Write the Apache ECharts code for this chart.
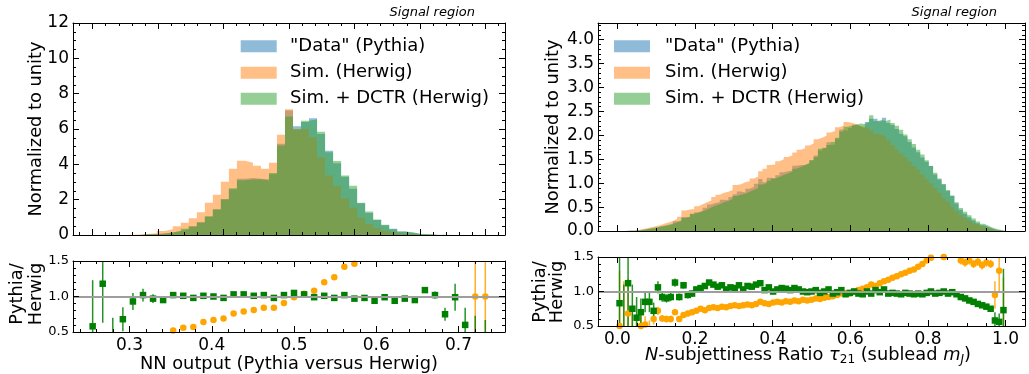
<!DOCTYPE html>
<html><head><meta charset="utf-8">
<script src="https://cdn.jsdelivr.net/npm/echarts@6/dist/echarts.min.js"></script>
<style>html,body{margin:0;padding:0;background:#fff}#c{width:1029px;height:374px}</style>
</head><body><div id="c"></div>
<script>
// ---------------- DATA ----------------
// Left panel: NN output, 49 bins from 0.2 to 0.8
const nnBinLo = 0.2, nnBinHi = 0.8, nnBinCount = 49;
const nnPythia = [0,0,0,0.001, 0.002,0.006,0.015,0.035,0.08,0.14,0.22,0.33,0.49,0.72,
  1.04,1.46,2.02,2.59,3.19,3.23,3.18,3.15,3.44,5.16, 7.05,6.16,6.4,6.61,5.72,4.77,4.06,3.3,2.62,1.8,
  1.25,0.85,0.55,0.35,0.2,0.12,0.06,0.03,0.003,0.002, 0,0,0,0,0];
const nnHerwig = [0,0,0,0.004, 0.012,0.025,0.05,0.1,0.22,0.33,0.5,0.7,0.95,1.29,
  1.83,2.28,3.02,3.75,4.2,4.09,3.92,3.75,4.09,5.67, 7.12,6.0,6.0,5.54,4.39,3.37,2.78,2.06,1.56,0.99,
  0.62,0.4,0.22,0.11,0.05,0.025,0.012,0.006,0.003,0.002, 0,0,0,0,0];
const nnDctr = [0,0,0,0.001, 0.0035,0.005,0.05,0.05,0.086,0.137,0.227,0.347,0.48,0.71,
  1.06,1.45,2.02,2.64,3.1,3.14,3.15,3.09,3.51,5.06, 6.71,5.98,6.47,6.54,5.84,4.68,4.19,3.37,2.79,1.82,
  1.33,0.88,0.58,0.32,0.2,0.16,0.06,0.05,0.01,0.008, 0,0,0,0,0];
// ratio points: bins 4..43
const nnRatioFirstBin = 4;
const nnRatioSim = [0.2,0.25,0.3,0.35,0.38,0.42,0.45,0.48, 0.52,0.56,0.57,0.64,0.67,0.69,0.76,0.79,0.81,0.84,
  0.84,0.91,0.99,1.04,1.08,1.2,1.27,1.42,1.46, 1.6,1.75,1.9,2.1,2.4,2.7,3.0,3.5,4.0,4.5,5.0, 1.0,1.0];
const nnRatioSimErr = [0.3,0.2,0.1,0.06,0.04,0.03,0.02,0.02, 0.02,0.02,0.02,0.02,0.02,0.02,0.02,0.02,0.02,0.02,
  0.02,0.02,0.02,0.02,0.02,0.02,0.02,0.02,0.02, 0.03,0.03,0.04,0.05,0.06,0.08,0.1,0.15,0.2,0.3,0.4, 0.8,0.8];
const nnRatioDctr = [0.58,1.18,0.3,0.68,0.93,1.02,0.97,0.95,1.02,1.01, 0.98,1.01,1.0,0.98,1.03,1.03,1.01,1.02,0.98,1.02,
  1.05,1.03,0.99,1.01,0.98,1.02,0.97,0.98,0.94,0.99, 0.94,0.97,0.95,1.09,1.02,0.75,0.99,0.6,0.3,0.25];
const nnRatioDctrErr = [0.65,0.55,0.4,0.17,0.12,0.09,0.06,0.04,0.03,0.025, 0.02,0.02,0.02,0.02,0.02,0.02,0.02,0.02,0.02,0.02,
  0.02,0.02,0.02,0.02,0.02,0.02,0.02,0.025,0.025,0.03, 0.03,0.035,0.04,0.04,0.05,0.09,0.19,0.24,0.43,0.42];

// Right panel: tau21, 91 bins from 0 to 1
const tauBinLo = 0, tauBinHi = 1, tauBinCount = 91;
const tauPythia = [0.001,0.001,0.003,0.004,0.007,0.018,0.034,0.047,0.054,0.095,
  0.101,0.117,0.138,0.203,0.202,0.294,0.285,0.349,0.391,0.43,
  0.486,0.554,0.583,0.599,0.654,0.649,0.71,0.767,0.828,0.803,
  0.886,0.92,0.99,1.086,1.02,1.113,1.1,1.164,1.229,1.248,
  1.265,1.365,1.38,1.38,1.406,1.48,1.581,1.686,1.74,1.854,
  1.804,1.93,2.122,2.093,2.156,2.22,2.183,2.15,2.28,2.347,
  2.346,2.297,2.369,2.26,2.215,2.134,2.035,1.98,1.862,1.747,
  1.649,1.536,1.45,1.36,1.183,1.078,0.98,0.834,0.733,0.576,
  0.442,0.36,0.287,0.221,0.164,0.12,0.086,0.053,0.023,0.011,0.004];
const tauHerwig = [0.001,0.002,0.003,0.005,0.02,0.04,0.06,0.08,0.1,0.12,
  0.15,0.18,0.21,0.25,0.3,0.43,0.45,0.46,0.52,0.56,
  0.6,0.64,0.71,0.76,0.8,0.82,0.86,0.96,0.98,1.02,
  1.04,1.1,1.14,1.25,1.3,1.38,1.39,1.46,1.5,1.55,
  1.58,1.64,1.7,1.73,1.79,1.83,1.92,1.95,1.99,2.06,
  2.09,2.17,2.2,2.28,2.26,2.24,2.2,2.18,2.15,2.1,
  2.04,2.02,1.98,1.9,1.8,1.7,1.62,1.55,1.45,1.36,
  1.28,1.18,1.08,1.0,0.9,0.8,0.7,0.61,0.5,0.42,
  0.34,0.27,0.22,0.16,0.12,0.09,0.06,0.03,0.01,0.002,0.001];
const tauDctr = [0.001,0.002,0.003,0.005,0.012,0.025,0.04,0.055,0.075,0.09,
  0.11,0.13,0.15,0.18,0.22,0.27,0.3,0.36,0.38,0.41,
  0.45,0.49,0.53,0.56,0.6,0.63,0.67,0.73,0.76,0.78,
  0.82,0.86,0.9,0.97,1.0,1.05,1.1,1.13,1.17,1.2,
  1.24,1.3,1.34,1.38,1.42,1.48,1.55,1.72,1.74,1.8,
  1.86,1.95,2.08,2.18,2.2,2.22,2.25,2.24,2.28,2.42,
  2.3,2.32,2.3,2.33,2.26,2.2,2.12,2.02,1.92,1.82,
  1.7,1.6,1.48,1.36,1.22,1.1,0.98,0.86,0.74,0.6,
  0.48,0.4,0.33,0.26,0.2,0.15,0.11,0.07,0.04,0.02,0.005];
const tauRatioSim = [0.5,0.35,0.68,0.45,0.42,0.5,0.52,0.48,0.6,0.72,
  0.61,0.6,0.6,0.7,0.6,0.66,0.68,0.7,0.72,0.75,
  0.73,0.76,0.77,0.76,0.78,0.77,0.79,0.8,0.79,0.8,
  0.81,0.8,0.82,0.85,0.83,0.82,0.84,0.85,0.84,0.86,
  0.85,0.87,0.86,0.88,0.87,0.88,0.9,0.89,0.91,0.92,
  0.93,0.95,0.97,0.98,0.97,1.0,1.02,1.04,1.06,1.1,
  1.08,1.12,1.15,1.17,1.2,1.22,1.25,1.27,1.3,1.32,
  1.36,1.4,1.45,1.49,1.52,1.55,1.5,1.52,1.56,1.55,
  1.45,1.42,1.45,1.4,1.43,1.38,1.42,1.4,0.95,1.3,0.4];
const tauRatioSimErr = [0.8,0.8,0.5,0.3,0.25,0.15,0.12,0.1,0.08,0.06,
  0.05,0.05,0.05,0.04,0.04,0.04,0.04,0.03,0.03,0.03,
  0.02,0.02,0.02,0.02,0.02,0.02,0.02,0.02,0.02,0.02,
  0.02,0.02,0.02,0.02,0.02,0.02,0.02,0.02,0.02,0.02,
  0.02,0.02,0.02,0.02,0.02,0.02,0.02,0.02,0.02,0.02,
  0.02,0.02,0.02,0.02,0.02,0.02,0.02,0.02,0.02,0.02,
  0.02,0.02,0.02,0.02,0.02,0.02,0.02,0.02,0.02,0.02,
  0.03,0.03,0.03,0.03,0.03,0.03,0.03,0.03,0.03,0.03,
  0.06,0.06,0.06,0.06,0.06,0.06,0.06,0.06,0.2,0.3,0.8];
const tauRatioDctr = [0.83,0.3,1.12,0.75,0.62,0.7,0.85,0.85,0.72,1.06,
  0.92,0.9,0.92,1.13,0.92,1.09,0.95,0.97,1.03,1.05,
  1.08,1.13,1.1,1.07,1.09,1.03,1.06,1.05,1.09,1.03,
  1.08,1.07,1.1,1.12,1.02,1.06,1.0,1.03,1.05,1.04,
  1.02,1.05,1.03,1.0,0.99,1.0,1.02,0.98,1.0,1.03,
  0.97,0.99,1.02,0.96,0.98,1.0,0.97,0.96,1.0,0.97,
  1.02,0.99,1.03,0.97,0.98,0.97,0.96,0.98,0.97,0.96,
  0.97,0.96,0.98,1.0,0.97,0.98,1.0,0.97,0.99,0.96,
  0.92,0.9,0.87,0.85,0.82,0.8,0.78,0.75,0.58,0.56,0.73];
const tauRatioDctrErr = [0.8,0.8,0.7,0.35,0.3,0.2,0.15,0.15,0.12,0.09,
  0.07,0.06,0.06,0.06,0.05,0.05,0.05,0.045,0.04,0.04,
  0.025,0.025,0.025,0.025,0.025,0.025,0.025,0.025,0.025,0.025,
  0.025,0.025,0.025,0.025,0.025,0.025,0.025,0.025,0.025,0.025,
  0.025,0.025,0.025,0.025,0.025,0.025,0.025,0.025,0.025,0.025,
  0.025,0.025,0.025,0.025,0.025,0.025,0.025,0.025,0.025,0.025,
  0.025,0.025,0.025,0.025,0.025,0.025,0.025,0.025,0.025,0.025,
  0.025,0.025,0.025,0.025,0.025,0.025,0.025,0.025,0.025,0.025,
  0.04,0.04,0.04,0.04,0.04,0.04,0.04,0.04,0.12,0.12,0.6];

const seriesNames = ['"Data" (Pythia)', 'Sim. (Herwig)', 'Sim. + DCTR (Herwig)'];
const leftTicksX = [0.3,0.4,0.5,0.6,0.7];
const leftTicksY = [0,2,4,6,8,10,12];
const ratioTicksY = [0.5,1.0,1.5];
const rightTicksX = [0.0,0.2,0.4,0.6,0.8,1.0];
const rightTicksY = [0.0,0.5,1.0,1.5,2.0,2.5,3.0,3.5,4.0];

// ---------------- HELPERS ----------------
const FONT = 'DejaVu Sans';
const C_BLUE = 'rgba(31,119,180,0.5)', C_ORANGE = 'rgba(255,127,14,0.5)', C_GREEN = 'rgba(44,160,44,0.5)';
function edges(lo, hi, n) { const e = []; for (let i = 0; i <= n; i++) e.push(lo + (hi - lo) * i / n); return e; }
function steps(a, b, s) { const out = []; const n = Math.round((b - a) / s); for (let i = 0; i <= n; i++) out.push(+(a + i * s).toFixed(6)); return out; }
function minorsOf(all, majors) { return all.filter(v => !majors.some(m => Math.abs(m - v) < 1e-9)); }
const nnEdges = edges(nnBinLo, nnBinHi, nnBinCount);
const tauEdges = edges(tauBinLo, tauBinHi, tauBinCount);
function stepData(e, vals) { const d = vals.map((v, i) => [e[i], v]); d.push([e[e.length - 1], vals[vals.length - 1]]); return d; }
function ratioData(e, first, vals, errs) { return vals.map((v, k) => [(e[first + k] + e[first + k + 1]) / 2, v, errs[k]]); }

const xAxes = [], yAxes = [];
function axis(gridIndex, position, min, max, ticks, len, line, lab) {
  return {
    type: 'value', gridIndex, position, min, max, z: 10,
    splitLine: { show: false }, splitArea: { show: false }, axisPointer: { show: false },
    axisLine: { show: line, onZero: false, lineStyle: { color: '#000', width: 1 } },
    axisTick: { show: true, inside: true, length: len, lineStyle: { color: '#000', width: 1 }, customValues: ticks },
    axisLabel: lab ? { show: true, customValues: ticks, margin: lab.margin, fontFamily: FONT, fontSize: lab.size, color: '#000', formatter: lab.fmt } : { show: false }
  };
}
function addSide(list, g, pos, min, max, majors, minors, lab) {
  const idx = list.length;
  list.push(axis(g, pos, min, max, majors, 6, true, lab));
  list.push(axis(g, pos, min, max, minors, 3, false, null));
  return idx;
}
const f1 = v => v.toFixed(1), f0 = v => String(v);

// grid 0: left top, grid 1: left bottom, grid 2: right top, grid 3: right bottom
const grids = [
  { left: 73, top: 23, width: 432, height: 212 },
  { left: 73, top: 261, width: 432, height: 71 },
  { left: 598, top: 23, width: 427, height: 208 },
  { left: 598, top: 257, width: 427, height: 69 }
];
const tlXmaj = steps(0.2, 0.8, 0.1), tlXmin = minorsOf(steps(0.18, 0.82, 0.02), tlXmaj);
const tlYmin = minorsOf(steps(0, 12, 0.5), leftTicksY);
const blXmin = minorsOf(steps(0.24, 0.74, 0.02), leftTicksX);
const rYmin = minorsOf(steps(0.5, 1.5, 0.1), ratioTicksY);
const rXmin = minorsOf(steps(-0.05, 1.05, 0.05), rightTicksX);
const trYmin = minorsOf(steps(0, 4.3, 0.1), rightTicksY);

const ax = {};
ax.x0 = addSide(xAxes, 0, 'bottom', 0.17, 0.83, tlXmaj, tlXmin, null);
addSide(xAxes, 0, 'top', 0.17, 0.83, tlXmaj, tlXmin, null);
ax.y0 = addSide(yAxes, 0, 'left', 0, 12, leftTicksY, tlYmin, { margin: 4, size: 17, fmt: f0 });
addSide(yAxes, 0, 'right', 0, 12, leftTicksY, tlYmin, null);

ax.x1 = addSide(xAxes, 1, 'bottom', 0.2312, 0.7566, leftTicksX, blXmin, { margin: 5, size: 17, fmt: f1 });
addSide(xAxes, 1, 'top', 0.2312, 0.7566, leftTicksX, blXmin, null);
ax.y1 = addSide(yAxes, 1, 'left', 0.5, 1.5, ratioTicksY, rYmin, { margin: 4, size: 13, fmt: f1 });
addSide(yAxes, 1, 'right', 0.5, 1.5, ratioTicksY, rYmin, null);

ax.x2 = addSide(xAxes, 2, 'bottom', -0.05, 1.05, rightTicksX, rXmin, null);
addSide(xAxes, 2, 'top', -0.05, 1.05, rightTicksX, rXmin, null);
ax.y2 = addSide(yAxes, 2, 'left', 0, 4.35, rightTicksY, trYmin, { margin: 4, size: 17, fmt: f1 });
addSide(yAxes, 2, 'right', 0, 4.35, rightTicksY, trYmin, null);

ax.x3 = addSide(xAxes, 3, 'bottom', -0.05, 1.05, rightTicksX, rXmin, { margin: 5, size: 17, fmt: f1 });
addSide(xAxes, 3, 'top', -0.05, 1.05, rightTicksX, rXmin, null);
ax.y3 = addSide(yAxes, 3, 'left', 0.5, 1.5, ratioTicksY, rYmin, { margin: 4, size: 13, fmt: f1 });
addSide(yAxes, 3, 'right', 0.5, 1.5, ratioTicksY, rYmin, null);

function histSeries(name, xi, yi, e, vals, color) {
  return { name, type: 'line', xAxisIndex: xi, yAxisIndex: yi, data: stepData(e, vals), step: 'end',
    showSymbol: false, symbol: 'none', lineStyle: { width: 0, opacity: 0 }, areaStyle: { color: color, opacity: 1 },
    clip: true, silent: true, animation: false };
}
function errSeries(xi, yi, data, color, ymin, ymax) {
  return { type: 'custom', xAxisIndex: xi, yAxisIndex: yi, data, clip: true, silent: true, animation: false,
    renderItem: function (params, api) {
      const x = api.value(0), y = api.value(1), e = api.value(2);
      const lo = Math.max(y - e, ymin), hi = Math.min(y + e, ymax);
      if (lo >= hi) return null;
      const p1 = api.coord([x, lo]), p2 = api.coord([x, hi]);
      return { type: 'line', shape: { x1: p1[0], y1: p1[1], x2: p2[0], y2: p2[1] }, style: { stroke: color, lineWidth: 1.5 } };
    } };
}
function markSeries(xi, yi, data, symbol, color) {
  return { type: 'scatter', xAxisIndex: xi, yAxisIndex: yi, data: data.map(d => [d[0], d[1]]), symbol, symbolSize: 6.5,
    itemStyle: { color: color, opacity: 1 }, clip: true, silent: true, animation: false };
}
function unityLine(xi, yi) {
  return { type: 'line', xAxisIndex: xi, yAxisIndex: yi, data: [], silent: true, animation: false,
    markLine: { silent: true, symbol: 'none', label: { show: false }, animation: false,
      lineStyle: { color: '#9e9e9e', width: 2, type: 'solid' }, data: [{ yAxis: 1 }] } };
}

const nnSimPts = ratioData(nnEdges, nnRatioFirstBin, nnRatioSim, nnRatioSimErr);
const nnDctrPts = ratioData(nnEdges, nnRatioFirstBin, nnRatioDctr, nnRatioDctrErr);
const tauSimPts = ratioData(tauEdges, 0, tauRatioSim, tauRatioSimErr);
const tauDctrPts = ratioData(tauEdges, 0, tauRatioDctr, tauRatioDctrErr);

const series = [
  histSeries(seriesNames[0], ax.x0, ax.y0, nnEdges, nnPythia, C_BLUE),
  histSeries(seriesNames[1], ax.x0, ax.y0, nnEdges, nnHerwig, C_ORANGE),
  histSeries(seriesNames[2], ax.x0, ax.y0, nnEdges, nnDctr, C_GREEN),
  unityLine(ax.x1, ax.y1),
  errSeries(ax.x1, ax.y1, nnSimPts, 'rgba(255,165,0,0.85)', 0.5, 1.5),
  markSeries(ax.x1, ax.y1, nnSimPts, 'circle', '#ffa500'),
  errSeries(ax.x1, ax.y1, nnDctrPts, 'rgba(0,128,0,0.85)', 0.5, 1.5),
  markSeries(ax.x1, ax.y1, nnDctrPts, 'rect', '#008000'),
  histSeries(seriesNames[0], ax.x2, ax.y2, tauEdges, tauPythia, C_BLUE),
  histSeries(seriesNames[1], ax.x2, ax.y2, tauEdges, tauHerwig, C_ORANGE),
  histSeries(seriesNames[2], ax.x2, ax.y2, tauEdges, tauDctr, C_GREEN),
  unityLine(ax.x3, ax.y3),
  errSeries(ax.x3, ax.y3, tauSimPts, 'rgba(255,165,0,0.85)', 0.5, 1.5),
  markSeries(ax.x3, ax.y3, tauSimPts, 'circle', '#ffa500'),
  errSeries(ax.x3, ax.y3, tauDctrPts, 'rgba(0,128,0,0.85)', 0.5, 1.5),
  markSeries(ax.x3, ax.y3, tauDctrPts, 'rect', '#008000')
];

// ---------------- TEXT / LEGENDS ----------------
function txt(x, y, text, opt) {
  return Object.assign({ type: 'text', x, y, silent: true, z: 100,
    style: Object.assign({ text, fill: '#000', fontFamily: FONT, fontSize: 17.8,
      align: 'center', verticalAlign: 'middle', textAlign: 'center', textVerticalAlign: 'middle' }, opt && opt.style || {}) },
    opt && opt.rotation != null ? { rotation: opt.rotation } : {});
}
const graphics = [];
const legendColors = [C_BLUE, C_ORANGE, C_GREEN];
const legendRows = [46.2, 72.7, 98.7];
[[240.7, 290], [614, 665]].forEach(([px, tx]) => {
  seriesNames.forEach((n, i) => {
    graphics.push({ type: 'rect', silent: true, z: 100, shape: { x: px, y: legendRows[i] - 6, width: 36, height: 12 }, style: { fill: legendColors[i] } });
    graphics.push(txt(tx, legendRows[i], n, { style: { fontSize: 18, align: 'left', textAlign: 'left' } }));
  });
});
graphics.push(txt(475, 13, 'Signal region', { style: { fontSize: 13, fontStyle: 'italic', align: 'right', textAlign: 'right' } }));
graphics.push(txt(997, 13, 'Signal region', { style: { fontSize: 13, fontStyle: 'italic', align: 'right', textAlign: 'right' } }));
graphics.push(txt(36, 129, 'Normalized to unity', { rotation: Math.PI / 2 }));
graphics.push(txt(553, 127, 'Normalized to unity', { rotation: Math.PI / 2 }));
graphics.push(txt(27, 294, 'Pythia/\nHerwig', { rotation: Math.PI / 2, style: { lineHeight: 18.5 } }));
graphics.push(txt(549, 292, 'Pythia/\nHerwig', { rotation: Math.PI / 2, style: { lineHeight: 17.5 } }));
graphics.push(txt(289, 364, 'NN output (Pythia versus Herwig)'));
graphics.push(txt(808, 355, '{i|N}-subjettiness Ratio {i|τ}{s|21} (sublead {i|m}{si|J})', { style: {
  rich: {
    i: { fontFamily: FONT, fontSize: 17.8, fontStyle: 'italic' },
    s: { fontFamily: FONT, fontSize: 12, padding: [9, 0, 0, 0] },
    si: { fontFamily: FONT, fontSize: 12, fontStyle: 'italic', padding: [9, 0, 0, 0] }
  } } }));

const chart = echarts.init(document.getElementById('c'), null, { renderer: 'canvas' });
chart.setOption({
  animation: false,
  backgroundColor: '#fff',
  grid: grids,
  xAxis: xAxes,
  yAxis: yAxes,
  series,
  graphic: graphics
});
</script></body></html>
